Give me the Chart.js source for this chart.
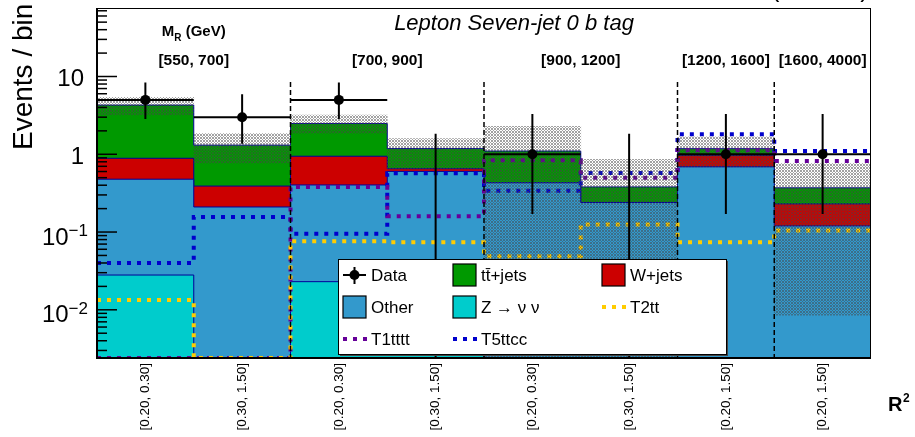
<!DOCTYPE html>
<html>
<head>
<meta charset="utf-8">
<script src="https://cdn.jsdelivr.net/npm/chart.js@4.4.0/dist/chart.umd.min.js"></script>
<style>
  html, body { margin: 0; padding: 0; background: #fff; }
  #caixa { width: 915px; height: 437px; }
</style>
</head>
<body>
<div id="caixa"><canvas id="grafico"></canvas></div>
<script>
// Bins de R2, agrupados por intervalo de MR
const rotulosR2 = ["[0.20, 0.30]", "[0.30, 1.50]", "[0.20, 0.30]", "[0.30, 1.50]",
                   "[0.20, 0.30]", "[0.30, 1.50]", "[0.20, 1.50]", "[0.20, 1.50]"];
const grupoMR = [0, 0, 1, 1, 2, 2, 3, 4];
const rotulosMR = ["[550, 700]", "[700, 900]", "[900, 1200]", "[1200, 1600]", "[1600, 4000]"];

// Fundos empilhados (valor de cada componente, de baixo para cima)
const zNuNu  = [0.028, 0,    0.023, 0.012, 0,    0,    0,    0];
const outros = [0.45,  0.21, 0.38,  0.59,  0.43, 0.24, 0.69, 0.12];
const wJets  = [0.41,  0.18, 0.54,  0.05,  0,    0,    0.28, 0.11];
const ttJets = [3.4,   0.92, 1.54,  0.53,  0.67, 0.14, 0.21, 0.14];

// Banda de incerteza do fundo total
const bandaBaixo = [3.2, 0.77, 1.85, 0.65, 0,    0,    0.69, 0.0085];
const bandaAlto  = [5.4, 1.85, 3.18, 1.59, 2.29, 0.86, 1.67, 0.76];

// Sinais
const t2tt   = [0.0134, 0,     0.076, 0.074, 0.049, 0.125, 0.074, 0.105];
const t1tttt = [0,      0,     0.38,  0.16,  0.84,  0.5,   1.13,  0.82];
const t5ttcc = [0.040,  0.156, 0.095, 0.57,  0.34,  0.575, 1.81,  1.1];

// Dados observados e erros (Poisson)
const dados     = [5,    3,    5,    0,    1,    0,    1,    1];
const erroCima  = [3.38, 2.92, 3.38, 1.84, 2.30, 1.84, 2.30, 2.30];
const erroBaixo = [2.16, 1.63, 2.16, 0,    0.83, 0,    0.83, 0.83];

const Y_MIN = 0.0024;
const Y_MAX = 76;
const TOPO_SEPARADOR = 8.5;

const corZ = '#00cccc', corOutros = '#3399cc', corW = '#cc0000', corTT = '#009900';
const corT2tt = '#ffcc00', corT1tttt = '#660099', corT5ttcc = '#0000cc';
const FONTE = "'Liberation Sans', Arial, sans-serif";

Chart.defaults.font.family = FONTE;

// Histograma em degraus: um ponto por borda de bin
function degraus(valores) {
  const pts = valores.map((v, i) => ({ x: i, y: Math.max(v, Y_MIN) }));
  pts.push({ x: valores.length, y: Math.max(valores[valores.length - 1], Y_MIN) });
  return pts;
}

// Padrão de hachura cinza da banda
function criaHachura() {
  const c = document.createElement('canvas');
  c.width = 3; c.height = 3;
  const g = c.getContext('2d');
  g.fillStyle = 'rgba(70,70,70,0.5)';
  g.fillRect(0, 0, 1, 1);
  g.fillRect(2, 0, 1, 1);
  g.fillRect(1, 1, 1, 1);
  g.fillRect(0, 2, 1, 1);
  g.fillRect(2, 2, 1, 1);
  return g.createPattern(c, 'repeat');
}

// Pilha acumulada
const componentes = [zNuNu, outros, wJets, ttJets];
const coresPilha = [corZ, corOutros, corW, corTT];
const acumulados = [];
let soma = zNuNu.map(() => 0);
componentes.forEach(comp => {
  soma = soma.map((s, i) => s + comp[i]);
  acumulados.push(soma);
});

const datasetsPilha = acumulados.map((ac, k) => ({
  type: 'line',
  data: degraus(ac),
  stepped: true,
  fill: 'start',
  backgroundColor: coresPilha[k],
  borderColor: '#000099',
  borderWidth: 1,
  pointRadius: 0,
  order: 20 + k
}));

function linhaSinal(valores, cor) {
  return {
    type: 'line', data: degraus(valores), stepped: true, fill: false,
    borderColor: cor, borderWidth: 4, borderDash: [4, 6], pointRadius: 0, order: 10
  };
}

const datasetBanda = {
  type: 'bar',
  data: bandaAlto.map((a, i) => ({ x: i + 0.5, y: [Math.max(bandaBaixo[i], Y_MIN), a] })),
  backgroundColor: criaHachura(),
  borderWidth: 0,
  grouped: false,
  barPercentage: 1,
  categoryPercentage: 1,
  order: 8
};

// Linhas tracejadas entre grupos de MR
const pontosSeparador = [];
for (let i = 1; i < grupoMR.length; i++) {
  if (grupoMR[i] !== grupoMR[i - 1]) {
    pontosSeparador.push({ x: i, y: TOPO_SEPARADOR }, { x: i, y: Y_MIN }, { x: i, y: null });
  }
}

// Barras de erro dos dados
const barrasVerticais = [];
const barrasHorizontais = [];
dados.forEach((d, i) => {
  barrasVerticais.push({ x: i + 0.5, y: Math.max(d - erroBaixo[i], Y_MIN) },
                       { x: i + 0.5, y: d + erroCima[i] }, { x: i + 0.5, y: null });
  if (d > 0) {
    barrasHorizontais.push({ x: i, y: d }, { x: i + 1, y: d }, { x: i + 1, y: null });
  }
});

const datasets = [
  ...datasetsPilha,
  linhaSinal(t2tt, corT2tt),
  linhaSinal(t1tttt, corT1tttt),
  linhaSinal(t5ttcc, corT5ttcc),
  datasetBanda,
  { type: 'line', data: pontosSeparador, borderColor: '#000', borderWidth: 1.5, borderDash: [5, 3],
    pointRadius: 0, fill: false, order: 5 },
  { type: 'line', data: barrasVerticais, borderColor: '#000', borderWidth: 2, pointRadius: 0, fill: false, order: 3 },
  { type: 'line', data: barrasHorizontais, borderColor: '#000', borderWidth: 2, pointRadius: 0, fill: false, order: 2 },
  { type: 'line', data: dados.map((d, i) => ({ x: i + 0.5, y: d > 0 ? d : null })), showLine: false,
    pointRadius: 5, pointBackgroundColor: '#000', pointBorderWidth: 0, order: 1 }
];

// Legenda no estilo ROOT
const itensLegenda = [
  { tipo: 'dados', texto: 'Data', col: 0, lin: 0 },
  { tipo: 'caixa', texto: 't\u0074\u0304+jets', cor: corTT, col: 1, lin: 0 },
  { tipo: 'caixa', texto: 'W+jets', cor: corW, col: 2, lin: 0 },
  { tipo: 'caixa', texto: 'Other', cor: corOutros, col: 0, lin: 1 },
  { tipo: 'caixa', texto: 'Z \u2192 \u03bd \u03bd', cor: corZ, col: 1, lin: 1 },
  { tipo: 'linha', texto: 'T2tt', cor: corT2tt, col: 2, lin: 1 },
  { tipo: 'linha', texto: 'T1tttt', cor: corT1tttt, col: 0, lin: 2 },
  { tipo: 'linha', texto: 'T5ttcc', cor: corT5ttcc, col: 1, lin: 2 }
];

function desenhaLegenda(ctx) {
  const L = 338, T = 259, R = 726, B = 354;
  const colX = [343, 453, 602];
  const linY = [275, 307, 339];
  ctx.fillStyle = '#444';
  ctx.fillRect(L + 2, T + 2, R - L, B - T);
  ctx.fillStyle = '#fff';
  ctx.fillRect(L, T, R - L, B - T);
  ctx.strokeStyle = '#000';
  ctx.lineWidth = 1;
  ctx.strokeRect(L + 0.5, T + 0.5, R - L, B - T);

  itensLegenda.forEach(it => {
    const x = colX[it.col], y = linY[it.lin];
    if (it.tipo === 'caixa') {
      ctx.fillStyle = it.cor;
      ctx.fillRect(x, y - 11, 23, 22);
      ctx.strokeStyle = '#000';
      ctx.lineWidth = 1.2;
      ctx.strokeRect(x, y - 11, 23, 22);
    } else if (it.tipo === 'linha') {
      ctx.save();
      ctx.strokeStyle = it.cor;
      ctx.lineWidth = 4;
      ctx.setLineDash([4, 6]);
      ctx.beginPath(); ctx.moveTo(x, y); ctx.lineTo(x + 24, y); ctx.stroke();
      ctx.restore();
    } else {
      ctx.strokeStyle = '#000';
      ctx.lineWidth = 2;
      ctx.beginPath();
      ctx.moveTo(x, y); ctx.lineTo(x + 23, y);
      ctx.moveTo(x + 11.5, y - 8); ctx.lineTo(x + 11.5, y + 9);
      ctx.stroke();
      ctx.fillStyle = '#000';
      ctx.beginPath(); ctx.arc(x + 11.5, y, 5, 0, Math.PI * 2); ctx.fill();
    }
    ctx.fillStyle = '#000';
    ctx.font = '17px ' + FONTE;
    ctx.textAlign = 'left';
    ctx.textBaseline = 'alphabetic';
    ctx.fillText(it.texto, x + 28, y + 6);
  });
}

const pluginEstilo = {
  id: 'estilo',
  afterDraw(chart) {
    const { ctx, chartArea: a, scales: { x, y } } = chart;
    ctx.save();

    // Moldura
    ctx.strokeStyle = '#000';
    ctx.lineWidth = 1;
    ctx.strokeRect(a.left + 0.5, a.top + 0.5, a.right - a.left - 1, a.bottom - a.top);
    ctx.lineWidth = 2;
    ctx.beginPath();
    ctx.moveTo(a.left, a.top); ctx.lineTo(a.left, a.bottom); ctx.lineTo(a.right, a.bottom);
    ctx.stroke();

    // Marcas do eixo Y para dentro, e rótulos 10^n
    ctx.lineWidth = 1.5;
    for (let d = -3; d <= 1; d++) {
      for (let m = 1; m <= 9; m++) {
        const v = m * Math.pow(10, d);
        if (v < Y_MIN || v > Y_MAX) continue;
        const py = y.getPixelForValue(v);
        ctx.beginPath(); ctx.moveTo(a.left, py); ctx.lineTo(a.left + (m === 1 ? 20 : 10), py); ctx.stroke();
        if (m !== 1) continue;
        ctx.fillStyle = '#000';
        ctx.textAlign = 'right';
        ctx.textBaseline = 'alphabetic';
        if (d >= 0) {
          ctx.font = '24px ' + FONTE;
          ctx.fillText(String(Math.round(v)), 84, py + 10);
        } else {
          ctx.font = '17px ' + FONTE;
          const exp = '\u2212' + (-d);
          const wExp = ctx.measureText(exp).width;
          ctx.fillText(exp, 88, py + 4);
          ctx.font = '24px ' + FONTE;
          ctx.fillText('10', 88 - wExp, py + 12.5);
        }
      }
    }

    desenhaLegenda(ctx);

    ctx.fillStyle = '#000';
    ctx.textBaseline = 'alphabetic';

    // Título
    ctx.font = 'italic 22px ' + FONTE;
    ctx.textAlign = 'center';
    ctx.fillText('Lepton Seven-jet 0 b tag', 514, 30);

    // Texto cortado no topo
    ctx.font = '26px ' + FONTE;
    ctx.textAlign = 'right';
    ctx.fillText('(13 TeV)', 869, -3);

    // Rótulos de MR
    ctx.font = 'bold 15.5px ' + FONTE;
    ctx.textAlign = 'center';
    rotulosMR.forEach((txt, g) => {
      const bins = grupoMR.map((gg, i) => gg === g ? i : -1).filter(i => i >= 0);
      const cx = x.getPixelForValue((bins[0] + bins[bins.length - 1] + 1) / 2);
      ctx.fillText(txt, cx, 65);
    });
    const cx0 = x.getPixelForValue(1);
    ctx.textAlign = 'left';
    ctx.font = 'bold 15px ' + FONTE;
    const wM = ctx.measureText('M').width;
    ctx.font = 'bold 10px ' + FONTE;
    const wR = ctx.measureText('R').width;
    ctx.font = 'bold 15px ' + FONTE;
    const wG = ctx.measureText(' (GeV)').width;
    let xt = cx0 - (wM + wR + wG) / 2;
    ctx.fillText('M', xt, 36);
    ctx.font = 'bold 10px ' + FONTE;
    ctx.fillText('R', xt + wM, 41);
    ctx.font = 'bold 15px ' + FONTE;
    ctx.fillText(' (GeV)', xt + wM + wR, 36);

    // Título do eixo X: R^2
    ctx.font = 'bold 20px ' + FONTE;
    ctx.fillText('R', 888, 411);
    ctx.font = 'bold 12px ' + FONTE;
    ctx.fillText('2', 903, 402);

    // Título do eixo Y
    ctx.save();
    ctx.translate(32, 150);
    ctx.rotate(-Math.PI / 2);
    ctx.font = '28px ' + FONTE;
    ctx.textAlign = 'left';
    ctx.fillText('Events / bin', 0, 0);
    ctx.restore();

    ctx.restore();
  }
};

const ctx = document.getElementById('grafico').getContext('2d');
const grafico = new Chart(ctx, {
  type: 'line',
  data: { datasets },
  plugins: [pluginEstilo],
  options: {
    responsive: true,
    maintainAspectRatio: false,
    animation: false,
    events: [],
    layout: { padding: { left: 0, right: 44, top: 8, bottom: 0 } },
    plugins: { legend: { display: false }, tooltip: { enabled: false } },
    scales: {
      x: {
        type: 'linear', min: 0, max: 8, offset: false,
        grid: { display: false, drawTicks: false },
        border: { display: false },
        afterBuildTicks: (s) => { s.ticks = rotulosR2.map((_, i) => ({ value: i + 0.5 })); },
        ticks: {
          autoSkip: false, maxRotation: 90, minRotation: 90, padding: 5,
          color: '#000', font: { size: 13.5 },
          callback: (v, i) => rotulosR2[i]
        },
        afterFit: (s) => { s.height = 79; }
      },
      y: {
        type: 'logarithmic', min: Y_MIN, max: Y_MAX,
        grid: { display: false },
        border: { display: false },
        ticks: { display: false },
        afterFit: (s) => { s.width = 97; }
      }
    }
  }
});
</script>
</body>
</html>
